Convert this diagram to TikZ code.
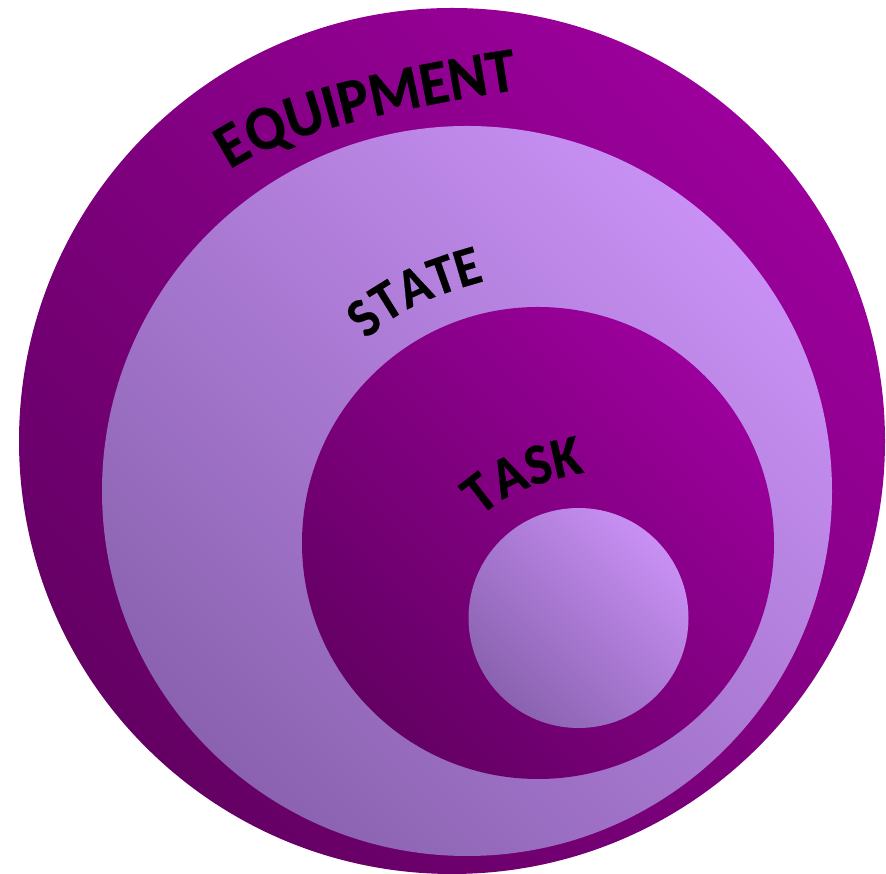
\documentclass[tikz,border=0pt]{standalone}
\usepackage{fontspec}
\setmainfont{Carlito}
\newfontfamily\labelfont{Carlito}[FakeStretch=0.93,FakeBold=0.5]
\usetikzlibrary{decorations.text}
\definecolor{darkTR}{RGB}{156,0,156}
\definecolor{darkBL}{RGB}{100,0,100}
\definecolor{lightTR}{RGB}{200,144,244}
\definecolor{lightBL}{RGB}{138,98,176}
\begin{document}
\begin{tikzpicture}[x=1pt,y=1pt,
  disc/.style={circle, inner sep=0pt, minimum size=#1},
  darkdisc/.style={disc=#1, top color=darkTR, bottom color=darkBL, shading angle=-45},
  lightdisc/.style={disc=#1, top color=lightTR, bottom color=lightBL, shading angle=-45}]
\path[use as bounding box] (0,0) rectangle (886,874);
\fill[white] (0,0) rectangle (886,874);
\node[darkdisc=866pt] (equipment) at (452,433) {};
\node[lightdisc=730pt] (state) at (467,383) {};
\node[darkdisc=472pt] (task) at (538,331) {};
\node[lightdisc=220pt] (core) at (578.5,256) {};
\path[decorate, decoration={text along path, text align=left,
  text={|\labelfont\fontsize{63}{63}\selectfont\bfseries|EQUIPMENT}}]
  (230,704) .. controls (287.6,746.1) and (444.9,773) .. (516,784) -- ++(9:80);
\path[decorate, decoration={text along path, text align=left,
  text={|\labelfont\fontsize{56}{56}\selectfont\bfseries|STATE}}]
  (367,534) .. controls (396,566) and (447.2,583) .. (492,595) -- ++(15:60);
\path[decorate, decoration={text along path, text align=left,
  text={|\labelfont\fontsize{58}{58}\selectfont\bfseries|TASK}}]
  (481,357) .. controls (507,384) and (554,396) .. (594,403) -- ++(11:60);
\end{tikzpicture}
\end{document}
